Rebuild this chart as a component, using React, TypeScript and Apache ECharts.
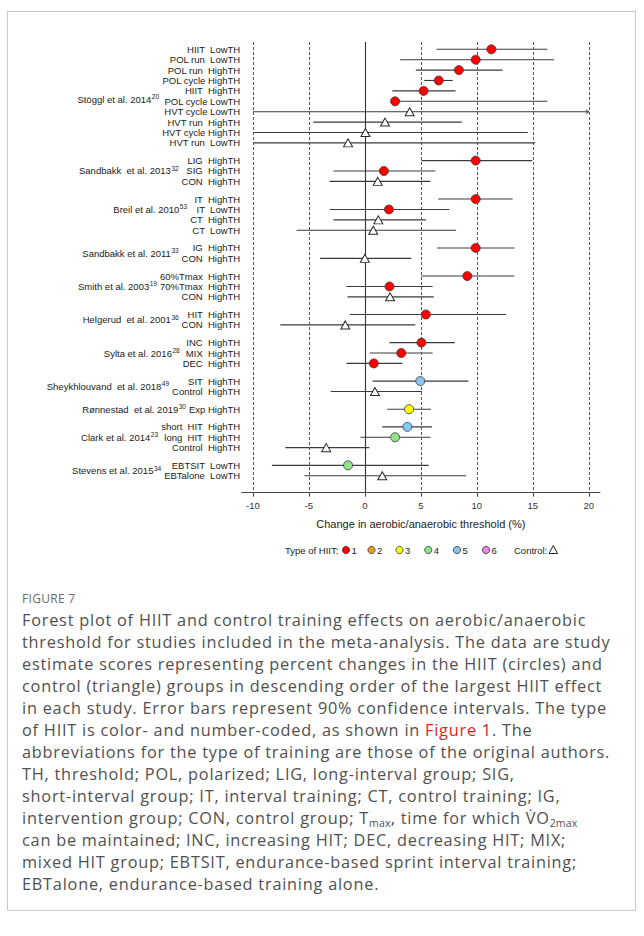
import React, { useEffect, useRef } from "react";
import * as echarts from "echarts";

// ---------- data ----------
const studyNames = [
  "Stöggl et al. 2014",
  "Sandbakk  et al. 2013",
  "Breil et al. 2010",
  "Sandbakk et al. 2011",
  "Smith et al. 2003",
  "Helgerud  et al. 2001",
  "Sylta et al. 2016",
  "Sheykhlouvand  et al. 2018",
  "Rønnestad  et al. 2019",
  "Clark et al. 2014",
  "Stevens et al. 2015",
];
const studyRefs = ["20", "32", "53", "33", "19", "36", "28", "49", "30", "23", "34"];
// offset (in rows) of each study label inside its group
const studyLabelRow = [4.8, 1, 1, 0.5, 1, 0.5, 1, 0.5, 0, 1, 0.5];

const rowLabels = [
  "HIIT  LowTH", "POL run  LowTH", "POL run  HighTH", "POL cycle HighTH", "HIIT  HighTH",
  "POL cycle LowTH", "HVT cycle LowTH", "HVT run  HighTH", "HVT cycle HighTH", "HVT run  LowTH",
  "LIG  HighTH", "SIG  HighTH", "CON  HighTH",
  "IT  HighTH", "IT  LowTH", "CT  HighTH", "CT  LowTH",
  "IG  HighTH", "CON  HighTH",
  "60%Tmax  HighTH", "70%Tmax  HighTH", "CON  HighTH",
  "HIT  HighTH", "CON  HighTH",
  "INC  HighTH", "MIX  HighTH", "DEC  HighTH",
  "SIT  HighTH", "Control  HighTH",
  "Exp HighTH",
  "short  HIT  HighTH", "long  HIT  HighTH", "Control  HighTH",
  "EBTSIT  LowTH", "EBTalone  LowTH",
];
const rowStudy = [
  0, 0, 0, 0, 0, 0, 0, 0, 0, 0,
  1, 1, 1,
  2, 2, 2, 2,
  3, 3,
  4, 4, 4,
  5, 5,
  6, 6, 6,
  7, 7,
  8,
  9, 9, 9,
  10, 10,
];
const estimates = [
  11.3, 9.9, 8.4, 6.6, 5.25, 2.7, 4.0, 1.8, 0.05, -1.5,
  9.9, 1.7, 1.15,
  9.9, 2.15, 1.2, 0.75,
  9.9, 0.0,
  9.15, 2.2, 2.25,
  5.45, -1.75,
  5.05, 3.25, 0.8,
  4.95, 0.9,
  3.95,
  3.8, 2.7, -3.45,
  -1.5, 1.55,
];
const lower = [
  6.4, 3.15, 4.55, 5.3, 2.45, 2.4, -10, -4.6, -10, -10,
  5.05, -2.8, -3.15,
  6.55, -3.1, -2.8, -6.1,
  6.45, -4.0,
  5.05, -1.65, -1.55,
  -1.35, -7.55,
  2.2, 0.45, -1.65,
  0.7, -3.05,
  2.0,
  1.55, -0.4, -7.1,
  -8.3, -5.4,
];
const upper = [
  16.3, 16.9, 12.3, 7.85, 8.1, 16.3, 21, 8.65, 14.55, 15.2,
  14.95, 6.3, 5.85,
  13.2, 7.55, 5.45, 8.15,
  13.35, 4.15,
  13.35, 6.05, 6.15,
  12.6, 4.5,
  8.05, 6.05, 3.35,
  9.25, 5.1,
  5.9,
  6.0, 5.85, 0.4,
  5.7, 9.05,
];
// 0 = control (triangle), 1..6 = type of HIIT
const hiitType = [
  1, 1, 1, 1, 1, 1, 0, 0, 0, 0,
  1, 1, 0,
  1, 1, 0, 0,
  1, 0,
  1, 1, 0,
  1, 0,
  1, 1, 1,
  5, 0,
  3,
  5, 4, 0,
  4, 0,
];
const xTicks = [-10, -5, 0, 5, 10, 15, 20];
const typeLabels = ["1", "2", "3", "4", "5", "6"];

// ---------- styles ----------
const typeColors = ["#ff0000", "#f39a1e", "#ffff00", "#8fe38a", "#87c8f2", "#ee82ee"];
const FONT = '"Liberation Sans", Arial, sans-serif';
const LABEL_SIZE = 9.5;
const GAP = 0.7;
const X_MIN = -11;
const X_MAX = 21;
const CLIP_MAX = 20;

const pos = rowLabels.map((_, i) => i + GAP * rowStudy[i]);

let measureCtx: CanvasRenderingContext2D | null = null;
function textWidth(t: string, size: number) {
  if (!measureCtx) measureCtx = document.createElement("canvas").getContext("2d");
  if (!measureCtx) return t.length * size * 0.5;
  measureCtx.font = `${size}px "Liberation Sans"`;
  return measureCtx.measureText(t).width;
}

export default function App() {
  const ref = useRef<HTMLDivElement>(null);

  useEffect(() => {
    if (!ref.current) return;
    const chart = echarts.init(ref.current, null, { renderer: "svg" });

    const firstRow = studyNames.map((_, s) => rowStudy.indexOf(s));
    const maxLabelW = studyNames.map((_, s) =>
      Math.max(...rowLabels.filter((_, i) => rowStudy[i] === s).map((l) => textWidth(l, LABEL_SIZE)))
    );

    const circleSeries = typeColors.map((c, t) => ({
      type: "scatter",
      symbol: "circle",
      symbolSize: 9,
      itemStyle: { color: c, borderColor: "#3a3a3a", borderWidth: 0.8, opacity: 1 },
      z: 5,
      data: estimates
        .map((v, i) => (hiitType[i] === t + 1 ? [v, pos[i]] : null))
        .filter((d) => d !== null),
    }));

    const option: any = {
      animation: false,
      grid: { left: 241.7, right: 44, top: 42, bottom: 87.3 },
      xAxis: {
        type: "value",
        min: X_MIN,
        max: X_MAX,
        name: "Change in aerobic/anaerobic threshold (%)",
        nameLocation: "middle",
        nameGap: 26,
        nameTextStyle: { fontFamily: FONT, fontSize: 11, color: "#222" },
        axisLine: { onZero: false, lineStyle: { color: "#444", width: 1 } },
        axisTick: { show: true, customValues: xTicks, length: 4, lineStyle: { color: "#444" } },
        axisLabel: {
          customValues: xTicks,
          fontFamily: FONT,
          fontSize: 9.5,
          color: "#333",
          margin: 8,
        },
        splitLine: { show: false },
      },
      yAxis: {
        type: "value",
        inverse: true,
        min: -0.7,
        max: 42.63,
        show: false,
      },
      series: [
        {
          type: "custom",
          clip: false,
          z: 3,
          encode: { x: [0, 1], y: 2 },
          data: rowLabels.map((_, i) => [lower[i], upper[i], pos[i]]),
          renderItem: (params: any, api: any) => {
            const lo = api.value(0);
            const hi = api.value(1);
            const y = api.value(2);
            const p1 = api.coord([lo, y]);
            const p2 = api.coord([Math.min(hi, CLIP_MAX), y]);
            const children: any[] = [
              {
                type: "line",
                shape: { x1: p1[0], y1: p1[1], x2: p2[0], y2: p2[1] },
                style: { stroke: "#3a3a3a", lineWidth: 1.1 },
              },
            ];
            if (hi > CLIP_MAX) {
              children.push({
                type: "polyline",
                shape: { points: [[p2[0] - 3, p2[1] - 2], [p2[0], p2[1]], [p2[0] - 3, p2[1] + 2]] },
                style: { stroke: "#3a3a3a", lineWidth: 1, fill: null },
              });
            }
            return { type: "group", children };
          },
          markLine: {
            silent: true,
            symbol: "none",
            label: { show: false },
            animation: false,
            data: [
              ...xTicks
                .filter((v) => v !== 0)
                .map((v) => ({ xAxis: v, lineStyle: { type: [3, 2], color: "#555", width: 1 } })),
              { xAxis: 0, lineStyle: { type: "solid", color: "#333", width: 1.1 } },
            ],
          },
        },
        {
          type: "custom",
          clip: false,
          silent: true,
          encode: { x: 0, y: 1 },
          data: rowLabels.map((_, i) => [X_MIN, pos[i], i]),
          renderItem: (params: any, api: any) => {
            const p = api.coord([api.value(0), api.value(1)]);
            const idx = api.value(2);
            return {
              type: "text",
              x: p[0] - 1.5,
              y: p[1],
              style: {
                text: rowLabels[idx],
                fill: "#222",
                fontFamily: FONT,
                fontSize: LABEL_SIZE,
                align: "right",
                verticalAlign: "middle",
              },
            };
          },
        },
        {
          type: "custom",
          clip: false,
          silent: true,
          encode: { x: 0, y: 1 },
          data: studyNames.map((_, s) => [X_MIN, pos[firstRow[s]] + studyLabelRow[s], s]),
          renderItem: (params: any, api: any) => {
            const s = api.value(2);
            const p = api.coord([api.value(0), api.value(1)]);
            const right = p[0] - 1.5 - maxLabelW[s] - 3;
            const supW = textWidth(studyRefs[s], 6.5);
            return {
              type: "group",
              children: [
                {
                  type: "text",
                  x: right - supW - 0.5,
                  y: p[1],
                  style: {
                    text: studyNames[s],
                    fill: "#222",
                    fontFamily: FONT,
                    fontSize: LABEL_SIZE,
                    align: "right",
                    verticalAlign: "middle",
                  },
                },
                {
                  type: "text",
                  x: right - supW,
                  y: p[1] - 2.5,
                  style: {
                    text: studyRefs[s],
                    fill: "#222",
                    fontFamily: FONT,
                    fontSize: 6.5,
                    align: "left",
                    verticalAlign: "middle",
                  },
                },
              ],
            };
          },
        },
        ...circleSeries,
        {
          type: "scatter",
          symbol: "triangle",
          symbolSize: [9, 8],
          z: 5,
          itemStyle: { color: "#ffffff", borderColor: "#2a2a2a", borderWidth: 1, opacity: 1 },
          data: estimates
            .map((v, i) => (hiitType[i] === 0 ? [v, pos[i]] : null))
            .filter((d) => d !== null),
        },
      ],
      graphic: [
        {
          type: "text",
          left: 285,
          top: 545,
          style: { text: "Type of HIIT:", fill: "#222", fontFamily: FONT, fontSize: 9.5 },
        },
        ...typeColors.flatMap((c, t) => {
          const cx = [346, 371.5, 399.5, 428.3, 457, 486][t];
          return [
            {
              type: "circle",
              shape: { cx, cy: 550, r: 3.6 },
              style: { fill: c, stroke: "#333", lineWidth: 0.8 },
            },
            {
              type: "text",
              left: cx + 5.5,
              top: 545,
              style: { text: typeLabels[t], fill: "#222", fontFamily: FONT, fontSize: 9.5 },
            },
          ];
        }),
        {
          type: "text",
          left: 514,
          top: 545,
          style: { text: "Control:", fill: "#222", fontFamily: FONT, fontSize: 9.5 },
        },
        {
          type: "polygon",
          shape: { points: [[553.3, 545.5], [549, 553.5], [557.6, 553.5]] },
          style: { fill: "#fff", stroke: "#222", lineWidth: 1 },
        },
      ],
    };

    chart.setOption(option);
    return () => chart.dispose();
  }, []);

  const cap: React.CSSProperties = {
    position: "absolute",
    left: 22,
    fontFamily: '"Open Sans", "Noto Sans", sans-serif',
    fontSize: 16.3,
    letterSpacing: 0.78,
    color: "#505050",
    whiteSpace: "nowrap",
    lineHeight: "22px",
  };
  const subStyle: React.CSSProperties = { fontSize: 10.5, verticalAlign: "-3px", lineHeight: 0, letterSpacing: 0.2 };
  const lines: React.ReactNode[] = [
    "Forest plot of HIIT and control training effects on aerobic/anaerobic",
    "threshold for studies included in the meta-analysis. The data are study",
    "estimate scores representing percent changes in the HIIT (circles) and",
    "control (triangle) groups in descending order of the largest HIIT effect",
    "in each study. Error bars represent 90% confidence intervals. The type",
    <>
      of HIIT is color- and number-coded, as shown in <span style={{ color: "#e2231a" }}>Figure 1</span>. The
    </>,
    "abbreviations for the type of training are those of the original authors.",
    "TH, threshold; POL, polarized; LIG, long-interval group; SIG,",
    "short-interval group; IT, interval training; CT, control training; IG,",
    <>
      intervention group; CON, control group; T<sub style={subStyle}>max</sub>, time for which V̇O<sub style={subStyle}>2max</sub>
    </>,
    "can be maintained; INC, increasing HIT; DEC, decreasing HIT; MIX;",
    "mixed HIT group; EBTSIT, endurance-based sprint interval training;",
    "EBTalone, endurance-based training alone.",
  ];

  return (
    <div style={{ position: "absolute", left: 0, top: 0, width: 644, height: 936, background: "#fff" }}>
      <div
        style={{
          position: "absolute",
          left: 7,
          top: 11,
          width: 629,
          height: 900,
          border: "1px solid #c8c8c8",
          boxSizing: "border-box",
        }}
      />
      <div ref={ref} style={{ position: "absolute", left: 0, top: 0, width: 644, height: 580 }} />
      <div
        style={{
          position: "absolute",
          left: 22,
          top: 590,
          fontFamily: '"Open Sans", "Noto Sans", sans-serif',
          fontSize: 12,
          color: "#6b6b6b",
          letterSpacing: 0.3,
        }}
      >
        FIGURE 7
      </div>
      {lines.map((l, k) => (
        <div key={k} style={{ ...cap, top: 609 + 22 * k }}>
          {l}
        </div>
      ))}
    </div>
  );
}
